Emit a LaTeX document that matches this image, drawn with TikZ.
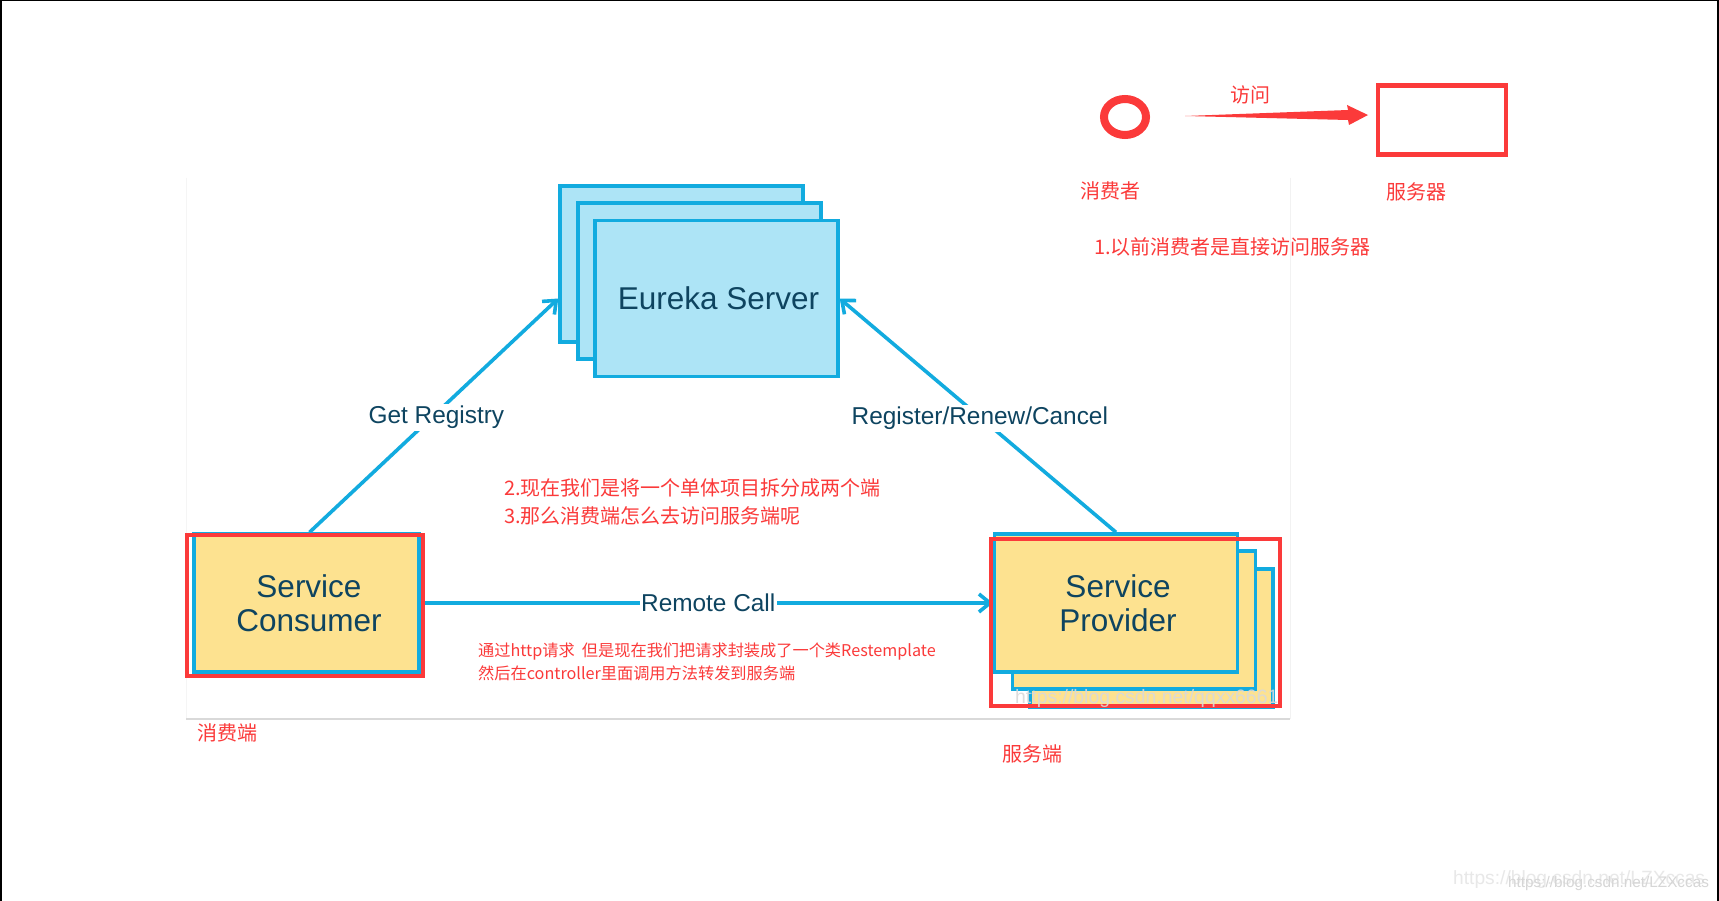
\documentclass[tikz,border=0pt]{standalone}
\usepackage{fontspec}
\setmainfont{Liberation Sans}
\newfontfamily\cjk{Noto Sans CJK SC}
\usetikzlibrary{arrows.meta,shapes.geometric}
\definecolor{cyanline}{HTML}{12ABDF}
\definecolor{cyanfill}{HTML}{ADE4F6}
\definecolor{yellowfill}{HTML}{FDE290}
\definecolor{inkteal}{HTML}{0E4460}
\definecolor{redmark}{HTML}{FB3A3A}
\tikzset{
  box/.style={draw=cyanline,line width=3.4pt,inner sep=0pt,align=center,text=inkteal,
    font=\fontsize{31.5}{34.5}\selectfont},
  srv/.style={box,fill=cyanfill},
  app/.style={box,fill=yellowfill},
  link/.style={draw=cyanline,line width=3.6pt,-{Straight Barb[length=11pt,width=18pt,line width=3.6pt]}},
  linklabel/.style={fill=white,inner sep=2pt,text=inkteal,font=\fontsize{24.4}{28}\selectfont},
  redbox/.style={draw=redmark,line width=4.2pt,inner sep=0pt},
  note/.style={text=redmark,inner sep=0pt,font=\cjk\fontsize{20}{27}\selectfont},
  small/.style={text=redmark,inner sep=0pt,align=left,font=\cjk\fontsize{16.2}{22}\selectfont},
  frame/.style={draw=#1,line width=1pt},
  wm/.style={inner sep=0pt}
}
\begin{document}
\begin{tikzpicture}[x=1pt,y=-1pt]
\useasboundingbox (0,0) rectangle (1719,901);
\fill[white] (0,0) rectangle (1719,901);
% page frame
\coordinate (tl) at (0,0); \coordinate (tr) at (1719,0);
\coordinate (bl) at (0,901); \coordinate (br) at (1719,901);
\draw[black,line width=4pt] (bl) -- (tl);
\draw[black,line width=2pt] (tl) -- (tr);
\draw[black,line width=4pt] (tr) -- (br);
% faint frame of the pasted picture
\coordinate (fa) at (186,178); \coordinate (fb) at (186,719);
\coordinate (fc) at (1290,719); \coordinate (fd) at (1290,178);
\draw[frame=black!4] (fa) -- (fb);
\draw[frame=black!5] (fd) -- (fc);
\draw[draw=black!15,line width=1.8pt] (fb) -- (fc);
% Eureka stack
\node[srv,minimum width=243pt,minimum height=156pt] (eurekaBack) at (681.5,264) {};
\node[srv,minimum width=243pt,minimum height=156pt] (eurekaMid) at (699.5,281) {};
\node[srv,minimum width=243pt,minimum height=156pt] (eureka) at (716.5,298.5) {\hspace*{4pt}Eureka Server};
% Provider stack
\node[app,minimum width=243pt,minimum height=138pt] (providerBack) at (1151.5,638) {};
\node[app,minimum width=243pt,minimum height=138pt] (providerMid) at (1134,620) {};
\node[app,minimum width=243pt,minimum height=138pt] (provider) at (1116,603) {\hspace*{4pt}Service\\\hspace*{4pt}Provider};
% Consumer
\node[app,minimum width=225pt,minimum height=138pt] (consumer) at (306.5,603) {\hspace*{5pt}Service\\\hspace*{5pt}Consumer};
% connectors
\draw[link] ([xshift=3pt]consumer.north) -- node[linklabel,midway,yshift=-2pt,xshift=2.5pt] (getreg) {Get Registry} (eurekaBack.west |- eureka.west);
\draw[link] (provider.north) -- node[linklabel,midway,yshift=-3pt,xshift=2pt] (regren) {Register/Renew/Cancel} (eureka.east);
\draw[link] (consumer.east) -- node[linklabel,midway,inner sep=1.5pt,xshift=1.5pt] (remote) {Remote Call} (provider.west);
% red overlays
\node[redbox,minimum width=236pt,minimum height=141pt] (consumerMark) at (305,605.5) {};
\node[redbox,minimum width=289pt,minimum height=167pt] (providerMark) at (1135.5,622.5) {};
% top-right sketch
\node[ellipse,draw=redmark,line width=8pt,minimum width=42pt,minimum height=36pt,inner sep=0pt] (person) at (1125,117) {};
\node[redbox,minimum width=127.5pt,minimum height=69pt] (server) at (1442,120) {};
\fill[redmark] (1185,116) -- (1348,110) -- (1347,105) -- (1368,115) -- (1349,125) -- (1348,120) -- cycle;
\node[note] (visit) at (1250,95) {访问};
\node[note] (personLabel) at (1110,191) {消费者};
\node[note] (serverLabel) at (1416,192) {服务器};
\node[note,anchor=west] (note1) at (1094,247) {1.以前消费者是直接访问服务器};
\node[note,anchor=west] (note2) at (504,488) {2.现在我们是将一个单体项目拆分成两个端};
\node[note,anchor=west] (note3) at (504,516) {3.那么消费端怎么去访问服务端呢};
\node[small,anchor=west] (note4) at (478,652) {通过http请求\ \ 但是现在我们把请求封装成了一个类Restemplate};
\node[small,anchor=west] (note5) at (478,673) {然后在controller里面调用方法转发到服务端};
\node[note] (consumerLabel) at (227,733) {消费端};
\node[note] (providerLabel) at (1032,754) {服务端};
% watermarks
\node[wm,anchor=west,text=white!85!black,opacity=.9,font=\fontsize{19.4}{22}\selectfont] (wm1) at (1015,698) {https://blog.csdn.net/qqxx6661};
\node[wm,anchor=west,text=black!9,font=\fontsize{19.2}{22}\selectfont] (wm2) at (1453,880) {https://blog.csdn.net/LZXccas};
\node[wm,anchor=west,text=black!16,font=\fontsize{15.3}{18}\selectfont] (wm3) at (1508,884) {https://blog.csdn.net/LZXccas};
\end{tikzpicture}
\end{document}
